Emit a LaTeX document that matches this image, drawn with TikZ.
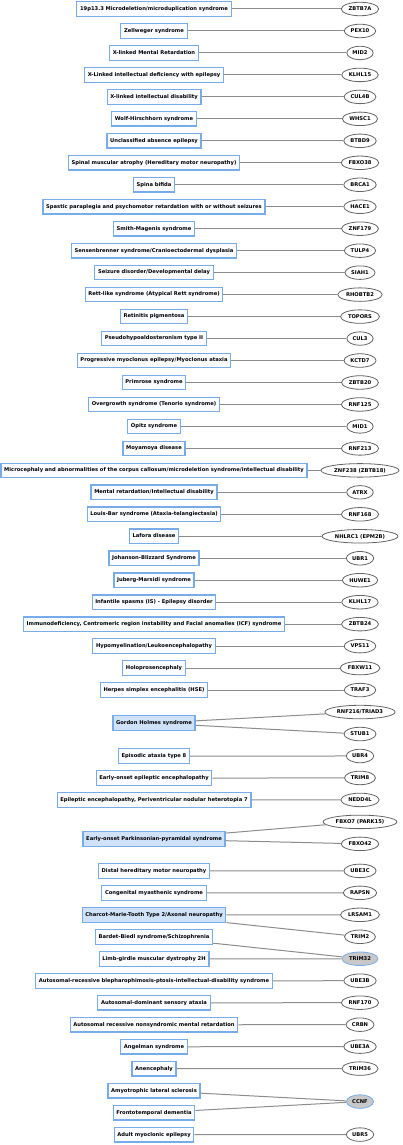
\documentclass[tikz,border=0pt]{standalone}
\usepackage{fontspec}
\setsansfont{DejaVu Sans}
\usepackage{tikz}
\usetikzlibrary{shapes.geometric}

\definecolor{boxblue}{RGB}{120,172,232}
\definecolor{boxfill}{RGB}{250,252,255}
\definecolor{hubfill}{RGB}{208,226,248}
\definecolor{hubgray}{RGB}{200,200,200}
\definecolor{rimgray}{RGB}{100,100,100}
\definecolor{linkgray}{RGB}{140,140,140}

\begin{document}
\begin{tikzpicture}[x=1pt, y=-1pt, node distance=21.97pt,
	disease node/.style={rectangle,draw=boxblue,fill=boxfill,line width=1.2pt,inner xsep=3.2pt,
		minimum height=14.5pt,text height=3.9pt,text depth=1.2pt,font=\sffamily\bfseries\fontsize{5.2}{6}\selectfont},
	multi node/.style={disease node,fill=hubfill},
	gene node/.style={ellipse,draw=rimgray,fill=white,line width=0.8pt,inner xsep=1.8pt,inner ysep=1pt,
		minimum height=13.5pt,text height=3.9pt,text depth=0.3pt,font=\sffamily\bfseries\fontsize{5.2}{6}\selectfont},
	hub node/.style={gene node,draw=boxblue,fill=hubgray}]
	\useasboundingbox (0,0) rectangle (402,1145);
	
	% diseases
	\node[disease node] (d1) at (154,9) {19p13.3 Microdeletion/microduplication syndrome};
	\node[disease node] (d2) [below of=d1] {Zellweger syndrome};
	\node[disease node] (d3) [below of=d2] {X-linked Mental Retardation};
	\node[disease node] (d4) [below of=d3] {X-Linked intellectual deficiency with epilepsy};
	\node[disease node] (d5) [below of=d4] {X-linked intellectual disability};
	\node[disease node] (d6) [below of=d5] {Wolf-Hirschhorn syndrome};
	\node[disease node] (d7) [below of=d6] {Unclassified absence epilepsy};
	\node[disease node] (d8) [below of=d7] {Spinal muscular atrophy (Hereditary motor neuropathy)};
	\node[disease node] (d9) [below of=d8] {Spina bifida};
	\node[disease node] (d10) [below of=d9] {Spastic paraplegia and psychomotor retardation with or without seizures};
	\node[disease node] (d11) [below of=d10] {Smith-Magenis syndrome};
	\node[disease node] (d12) [below of=d11] {Sensenbrenner syndrome/Cranioectodermal dysplasia};
	\node[disease node] (d13) [below of=d12] {Seizure disorder/Developmental delay};
	\node[disease node] (d14) [below of=d13] {Rett-like syndrome (Atypical Rett syndrome)};
	\node[disease node] (d15) [below of=d14] {Retinitis pigmentosa};
	\node[disease node] (d16) [below of=d15] {Pseudohypoaldosteronism type II};
	\node[disease node] (d17) [below of=d16] {Progressive myoclonus epilepsy/Myoclonus ataxia};
	\node[disease node] (d18) [below of=d17] {Primrose syndrome};
	\node[disease node] (d19) [below of=d18] {Overgrowth syndrome (Tenorio syndrome)};
	\node[disease node] (d20) [below of=d19] {Opitz syndrome};
	\node[disease node] (d21) [below of=d20] {Moyamoya disease};
	\node[disease node] (d22) [below of=d21] {Microcephaly and abnormalities of the corpus callosum/microdeletion syndrome/intellectual disability};
	\node[disease node] (d23) [below of=d22] {Mental retardation/Intellectual disability};
	\node[disease node] (d24) [below of=d23] {Louis-Bar syndrome (Ataxia-telangiectasia)};
	\node[disease node] (d25) [below of=d24] {Lafora disease};
	\node[disease node] (d26) [below of=d25] {Johanson-Blizzard Syndrome};
	\node[disease node] (d27) [below of=d26] {Juberg-Marsidi syndrome};
	\node[disease node] (d28) [below of=d27] {Infantile spasms (IS) - Epilepsy disorder};
	\node[disease node] (d29) [below of=d28] {Immunodeficiency, Centromeric region instability and Facial anomalies (ICF) syndrome};
	\node[disease node] (d30) [below of=d29] {Hypomyelination/Leukoencephalopathy};
	\node[disease node] (d31) [below of=d30] {Holoprosencephaly};
	\node[disease node] (d32) [below of=d31] {Herpes simplex encephalitis (HSE)};
	\node[multi node] (d33) [node distance=33pt, below of=d32] {Gordon Holmes syndrome};
	\node[disease node] (d34) [node distance=33pt, below of=d33] {Episodic ataxia type 8};
	\node[disease node] (d35) [below of=d34] {Early-onset epileptic encephalopathy};
	\node[disease node] (d36) [below of=d35] {Epileptic encephalopathy, Periventricular nodular heterotopia 7};
	\node[multi node] (d37) [node distance=39pt, below of=d36] {Early-onset Parkinsonian-pyramidal syndrome};
	\node[disease node] (d38) [node distance=32pt, below of=d37] {Distal hereditary motor neuropathy};
	\node[disease node] (d39) [below of=d38] {Congenital myasthenic syndrome};
	\node[multi node] (d40) [below of=d39] {Charcot-Marie-Tooth Type 2/Axonal neuropathy};
	\node[disease node] (d41) [below of=d40] {Bardet-Biedl syndrome/Schizophrenia};
	\node[disease node] (d42) [below of=d41] {Limb-girdle muscular dystrophy 2H};
	\node[disease node] (d43) [below of=d42] {Autosomal-recessive blepharophimosis-ptosis-intellectual-disability syndrome};
	\node[disease node] (d44) [below of=d43] {Autosomal-dominant sensory ataxia};
	\node[disease node] (d45) [below of=d44] {Autosomal recessive nonsyndromic mental retardation};
	\node[disease node] (d46) [below of=d45] {Angelman syndrome};
	\node[disease node] (d47) [below of=d46] {Anencephaly};
	\node[disease node] (d48) [below of=d47] {Amyotrophic lateral sclerosis};
	\node[disease node] (d49) [below of=d48] {Frontotemporal dementia};
	\node[disease node] (d50) [below of=d49] {Adult myoclonic epilepsy};
	
	% genes
	\node[gene node] (g1) [node distance=206pt, right of=d1] {ZBTB7A};
	\node[gene node] (g2) [below of=g1] {PEX10};
	\node[gene node] (g3) [below of=g2] {MID2};
	\node[gene node] (g4) [below of=g3] {KLHL15};
	\node[gene node] (g5) [below of=g4] {CUL4B};
	\node[gene node] (g6) [below of=g5] {WHSC1};
	\node[gene node] (g7) [below of=g6] {BTBD9};
	\node[gene node] (g8) [below of=g7] {FBXO38};
	\node[gene node] (g9) [below of=g8] {BRCA1};
	\node[gene node] (g10) [below of=g9] {HACE1};
	\node[gene node] (g11) [below of=g10] {ZNF179};
	\node[gene node] (g12) [below of=g11] {TULP4};
	\node[gene node] (g13) [below of=g12] {SIAH1};
	\node[gene node] (g14) [below of=g13] {RHOBTB2};
	\node[gene node] (g15) [below of=g14] {TOPORS};
	\node[gene node] (g16) [below of=g15] {CUL3};
	\node[gene node] (g17) [below of=g16] {KCTD7};
	\node[gene node] (g18) [below of=g17] {ZBTB20};
	\node[gene node] (g19) [below of=g18] {RNF125};
	\node[gene node] (g20) [below of=g19] {MID1};
	\node[gene node] (g21) [below of=g20] {RNF213};
	\node[gene node] (g22) [below of=g21] {ZNF238 (ZBTB18)};
	\node[gene node] (g23) [below of=g22] {ATRX};
	\node[gene node] (g24) [below of=g23] {RNF168};
	\node[gene node] (g25) [below of=g24] {NHLRC1 (EPM2B)};
	\node[gene node] (g26) [below of=g25] {UBR1};
	\node[gene node] (g27) [below of=g26] {HUWE1};
	\node[gene node] (g28) [below of=g27] {KLHL17};
	\node[gene node] (g29) [below of=g28] {ZBTB24};
	\node[gene node] (g30) [below of=g29] {VPS11};
	\node[gene node] (g31) [below of=g30] {FBXW11};
	\node[gene node] (g32) [below of=g31] {TRAF3};
	\node[gene node] (g33) [below of=g32] {RNF216/TRIAD3};
	\node[gene node] (g34) [below of=g33] {STUB1};
	\node[gene node] (g35) [below of=g34] {UBR4};
	\node[gene node] (g36) [below of=g35] {TRIM8};
	\node[gene node] (g37) [below of=g36] {NEDD4L};
	\node[gene node] (g38) [below of=g37] {FBXO7 (PARK15)};
	\node[gene node] (g39) [below of=g38] {FBXO42};
	\node[gene node] (g40) [node distance=27pt, below of=g39] {UBE3C};
	\node[gene node] (g41) [below of=g40] {RAPSN};
	\node[gene node] (g42) [below of=g41] {LRSAM1};
	\node[gene node] (g43) [below of=g42] {TRIM2};
	\node[hub node] (g44) [below of=g43] {TRIM32};
	\node[gene node] (g45) [below of=g44] {UBE3B};
	\node[gene node] (g46) [below of=g45] {RNF170};
	\node[gene node] (g47) [below of=g46] {CRBN};
	\node[gene node] (g48) [below of=g47] {UBE3A};
	\node[gene node] (g49) [below of=g48] {TRIM36};
	\node[hub node] (g50) [node distance=33pt, below of=g49] {CCNF};
	\node[gene node] (g51) [node distance=33pt, below of=g50] {UBR5};
	
	\path[draw=linkgray, line width=1pt]
	\foreach \i in {1,...,32} {(d\i) edge (g\i)}
	(d33) edge (g33)
	edge (g34)
	(d34) edge (g35)
	(d35) edge (g36)
	(d36) edge (g37)
	(d37) edge (g38)
	edge (g39)
	(d38) edge (g40)
	(d39) edge (g41)
	(d40) edge (g42)
	edge (g43)
	(d41) edge (g44)
	(d42) edge (g44)
	(d43) edge (g45)
	(d44) edge (g46)
	(d45) edge (g47)
	(d46) edge (g48)
	(d47) edge (g49)
	(d48) edge (g50)
	(d49) edge (g50)
	(d50) edge (g51);
\end{tikzpicture}
\end{document}
